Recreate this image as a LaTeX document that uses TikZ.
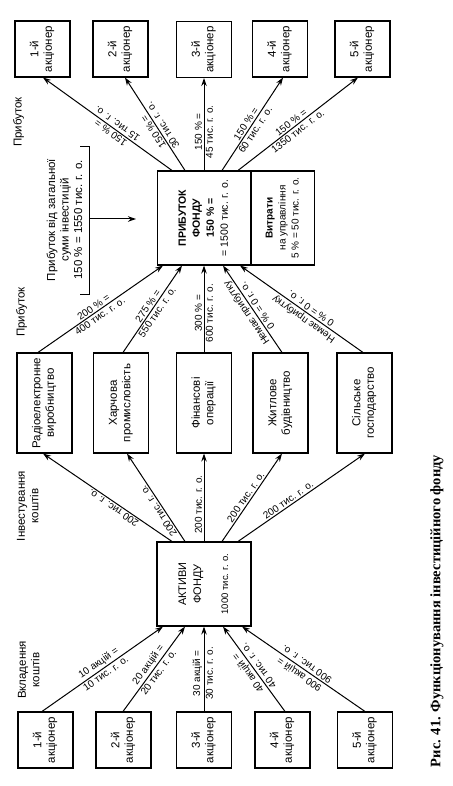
\documentclass[tikz,border=0pt]{standalone}
\usepackage{fontspec}
\setmainfont{Liberation Sans}
\newfontfamily\capfont{Liberation Serif}
\usetikzlibrary{arrows.meta}
\newcommand{\rt}[1]{\rotatebox{90}{\begin{tabular}{@{}c@{}}#1\end{tabular}}}
\begin{document}
\begin{tikzpicture}[x=1pt,y=-1pt,
  every node/.style={inner sep=0pt},
  box/.style={draw, line width=1.1pt, font=\fontsize{11.5}{13.5}\selectfont},
  sbox/.style={box, minimum width=55pt, minimum height=56pt},
  ibox/.style={box, minimum width=55pt, minimum height=100pt},
  conn/.style={line width=1pt, -{Stealth[length=8pt,width=5.5pt]}},
  lab/.style={font=\fontsize{10}{12}\selectfont, sloped, allow upside down, inner sep=1.5pt},
  txt/.style={font=\fontsize{11.5}{13.5}\selectfont}]
\useasboundingbox (0,0) rectangle (452,786);

% top shareholders (profit recipients)
\node[sbox] (a1) at (42.5,49) {\rt{1-й\\акціонер}};
\node[sbox] (a2) at (120.5,49) {\rt{2-й\\акціонер}};
\node[sbox] (a3) at (204,49.5) {\rt{3-й\\акціонер}};
\node[sbox] (a4) at (280,49) {\rt{4-й\\акціонер}};
\node[sbox] (a5) at (362.5,49) {\rt{5-й\\акціонер}};

% profit box and expenses box
\node[box, minimum width=93pt, minimum height=94pt, font=\fontsize{10.5}{14}\selectfont] (pf) at (204,218)
  {\rt{\textbf{ПРИБУТОК}\\\textbf{ФОНДУ}\\\textbf{150 \% =}\\= 1500 тис. г. о.}};
\node[box, minimum width=63pt, minimum height=94pt, anchor=west, font=\fontsize{10}{13}\selectfont] (vt) at (pf.east)
  {\rt{\textbf{Витрати}\\на управління\\5 \% = 50 тис. г. о.}};

% industries
\node[ibox] (i1) at (44.5,403) {\rt{Радіоелектронне\\виробництво}};
\node[ibox] (i2) at (121,403) {\rt{Харчова\\промисловість}};
\node[ibox] (i3) at (204,403) {\rt{Фінансові\\операції}};
\node[ibox] (i4) at (280.5,403) {\rt{Житлове\\будівництво}};
\node[ibox] (i5) at (364.5,403) {\rt{Сільське\\господарство}};

% assets
\node[box, minimum width=94pt, minimum height=84pt, font=\fontsize{11}{15}\selectfont] (ak) at (204,584)
  {\rt{АКТИВИ\\ФОНДУ\\[12pt]{\fontsize{9.5}{11}\selectfont 1000 тис. г. о.}}};

% bottom shareholders (investors)
\node[sbox] (b1) at (45.5,740) {\rt{1-й\\акціонер}};
\node[sbox] (b2) at (123.5,740) {\rt{2-й\\акціонер}};
\node[sbox] (b3) at (204,740) {\rt{3-й\\акціонер}};
\node[sbox] (b4) at (282.5,740) {\rt{4-й\\акціонер}};
\node[sbox] (b5) at (365,740) {\rt{5-й\\акціонер}};

% profit distribution
\draw[conn] ([xshift=-32pt]pf.north) -- ([xshift=0.5pt]a1.south)
  node[lab,pos=0.45,above] (t1a) {150 \% =} node[lab,pos=0.45,below] (t1b) {15 тис. г. о.};
\draw[conn] ([xshift=-19pt]pf.north) -- ([xshift=4.5pt]a2.south)
  node[lab,pos=0.45,above] (t2a) {150 \% =} node[lab,pos=0.45,below] (t2b) {30 тис. г. о.};
\draw[conn] (pf.north) -- (a3.south)
  node[lab,pos=0.42,above] (t3a) {150 \% =} node[lab,pos=0.42,below] (t3b) {45 тис. г. о.};
\draw[conn] ([xshift=18pt]pf.north) -- ([xshift=3pt]a4.south)
  node[lab,pos=0.47,above] (t4a) {150 \% =} node[lab,pos=0.47,below] (t4b) {60 тис. г. о.};
\draw[conn] ([xshift=34pt]pf.north) -- ([xshift=-4.5pt]a5.south)
  node[lab,pos=0.47,above] (t5a) {150 \% =} node[lab,pos=0.47,below] (t5b) {1350 тис. г. о.};

% industry profits
\draw[conn] ([xshift=-6.5pt]i1.north) -- ([xshift=-41pt]pf.south)
  node[lab,pos=0.47,above] (m1a) {200 \% =} node[lab,pos=0.47,below] (m1b) {400 тис. г. о.};
\draw[conn] ([xshift=2pt]i2.north) -- ([xshift=-22pt]pf.south)
  node[lab,pos=0.5,above] (m2a) {275 \% =} node[lab,pos=0.5,below] (m2b) {550 тис. г. о.};
\draw[conn] (i3.north) -- (pf.south)
  node[lab,pos=0.45,above] (m3a) {300 \% =} node[lab,pos=0.45,below] (m3b) {600 тис. г. о.};
\draw[conn] ([xshift=1.5pt]i4.north) -- ([xshift=19pt]pf.south)
  node[lab,pos=0.5,above] (m4a) {Немає прибутку} node[lab,pos=0.5,below] (m4b) {0 \% = 0 г. о.};
\draw[conn] ([xshift=-1.5pt]i5.north) -- ([xshift=36pt]pf.south)
  node[lab,pos=0.45,above] (m5a) {Немає прибутку} node[lab,pos=0.45,below] (m5b) {0 \% = 0 г. о.};

% investment of assets
\draw[conn] ([xshift=-32pt]ak.north) -- ([xshift=-1.5pt]i1.south)
  node[lab,pos=0.43,above] (n1) {200 тис. г. о.};
\draw[conn] ([xshift=-19pt]ak.north) -- ([xshift=6pt]i2.south)
  node[lab,pos=0.38,above] (n2) {200 тис. г. о.};
\draw[conn] (ak.north) -- (i3.south)
  node[lab,pos=0.42,above] (n3) {200 тис. г. о.};
\draw[conn] ([xshift=18pt]ak.north) -- ([xshift=1.5pt]i4.south)
  node[lab,pos=0.47,above] (n4) {200 тис. г. о.};
\draw[conn] ([xshift=34pt]ak.north) -- ([xshift=0.5pt]i5.south)
  node[lab,pos=0.42,above] (n5) {200 тис. г. о.};

% contributions
\draw[conn] ([xshift=-3.5pt]b1.north) -- ([xshift=-41pt]ak.south)
  node[lab,pos=0.5,above] (c1a) {10 акцій =} node[lab,pos=0.5,below] (c1b) {10 тис. г. о.};
\draw[conn] ([xshift=-0.5pt]b2.north) -- ([xshift=-19pt]ak.south)
  node[lab,pos=0.5,above] (c2a) {20 акцій =} node[lab,pos=0.5,below] (c2b) {20 тис. г. о.};
\draw[conn] (b3.north) -- (ak.south)
  node[lab,pos=0.45,above] (c3a) {30 акцій =} node[lab,pos=0.45,below] (c3b) {30 тис. г. о.};
\draw[conn] ([xshift=2.5pt]b4.north) -- ([xshift=19pt]ak.south)
  node[lab,pos=0.5,above] (c4a) {40 акцій =} node[lab,pos=0.5,below] (c4b) {40 тис. г. о.};
\draw[conn] (b5.north) -- ([xshift=38pt]ak.south)
  node[lab,pos=0.5,above] (c5a) {900 акцій =} node[lab,pos=0.5,below] (c5b) {900 тис. г. о.};

% bracket with total profit
\node[txt] (br) at (66,220) {\rt{Прибуток від загальної\\суми інвестицій\\150 \% = 1550 тис. г. о.}};
\coordinate (brt) at (89,147);
\coordinate (brb) at (89,294);
\coordinate (brm) at (89,219);
\coordinate (bra) at (136,219);
\draw[line width=1pt] ([xshift=-9pt]brt) -- (brt) -- (brb) -- ([xshift=-9pt]brb);
\draw[conn] (brm) -- (bra);

% side labels
\node[txt] (lp1) at (19,122) {\rt{Прибуток}};
\node[txt] (lp2) at (22,312) {\rt{Прибуток}};
\node[txt] (li) at (29,506) {\rt{Інвестування\\коштів}};
\node[txt] (lv) at (30,670) {\rt{Вкладення\\коштів}};

% caption
\node[font=\capfont\bfseries\fontsize{14.5}{16}\selectfont] (cap) at (437,611)
  {\rotatebox{90}{Рис. 41. Функціонування інвестиційного фонду}};
\end{tikzpicture}
\end{document}
